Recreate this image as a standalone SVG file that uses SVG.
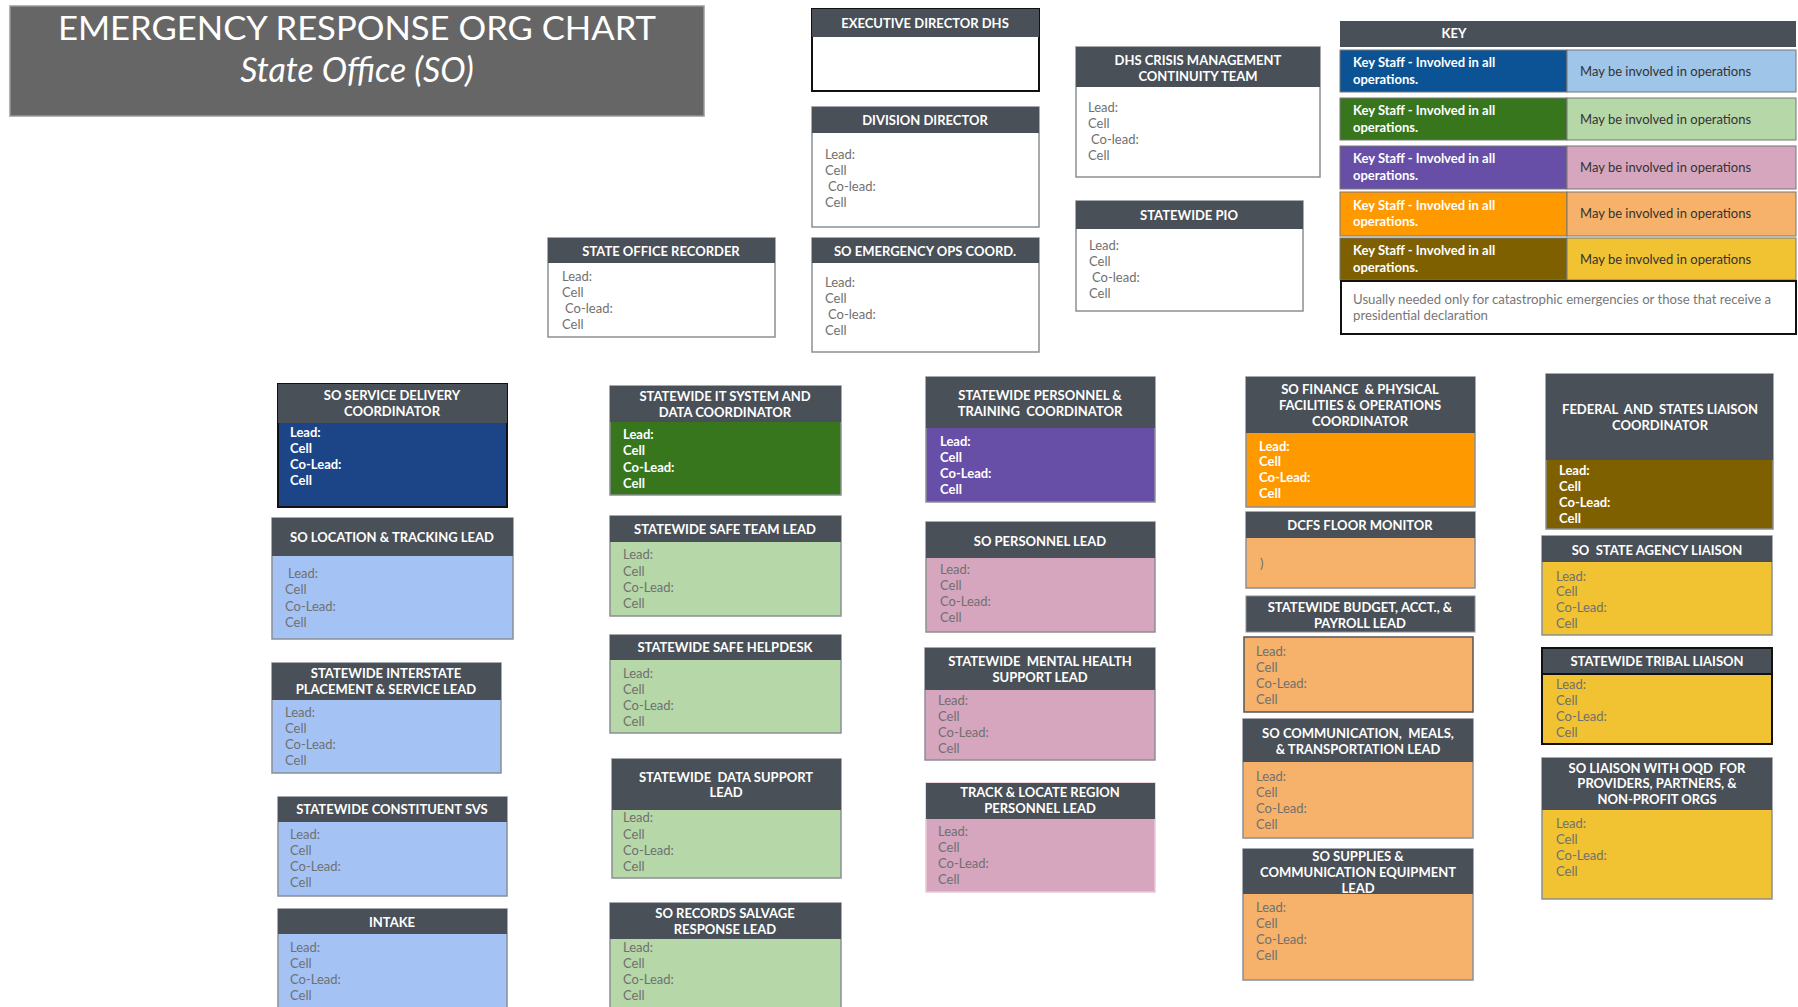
<svg xmlns="http://www.w3.org/2000/svg" width="1798" height="1007" viewBox="0 0 1798 1007" xml:space="preserve">
<style>
text{font-family:Lato,"Liberation Sans",sans-serif;white-space:pre}
.hd{fill:#495057}
.ht{font-size:13px;font-weight:bold;fill:#fff;text-anchor:middle}
.bt{font-size:13px;fill:#707070}
.bw{font-size:13px;font-weight:bold;fill:#fff}
.bx{stroke:#8a8f94;stroke-width:1.5}
.bk{stroke:#111;stroke-width:2}
.wh{fill:#fff}.lb{fill:#a4c2f4}.db{fill:#1c4587}.dg{fill:#38761d}.lg{fill:#b6d7a8}
.pu{fill:#674ea7}.pk{fill:#d5a6bd}.or{fill:#ff9900}.lo{fill:#f6b26b}.br{fill:#7f6000}.ye{fill:#f1c232}
.kl{font-size:13px;font-weight:bold;fill:#fff}
.kr{font-size:13px;fill:#333}
</style>
<rect width="1798" height="1007" fill="#fff"/>

<g id="title">
<rect x="10" y="6" width="694" height="110" fill="#666" stroke="#999" stroke-width="1.5"/>
<text x="357" y="40" text-anchor="middle" font-size="33" fill="#fff" textLength="598" lengthAdjust="spacingAndGlyphs">EMERGENCY RESPONSE ORG CHART</text>
<text x="357" y="82" text-anchor="middle" font-size="34" font-style="italic" fill="#fff">State Office (SO)</text>
</g>

<g id="connectors"></g>

<g id="exec-director">
<rect class="wh bk" x="812" y="9" width="227" height="82"/>
<rect class="hd" x="812" y="9" width="227" height="28"/>
<text class="ht" x="925" y="28">EXECUTIVE DIRECTOR DHS</text>
</g>

<g id="division-director">
<rect class="wh bx" x="812" y="107" width="227" height="120"/>
<rect class="hd" x="812" y="107" width="227" height="26"/>
<text class="ht" x="925" y="125">DIVISION DIRECTOR</text>
<text class="bt" x="825" y="159">Lead:</text><text class="bt" x="825" y="175">Cell</text><text class="bt" x="828" y="191">Co-lead:</text><text class="bt" x="825" y="207">Cell</text>
</g>

<g id="so-emergency-ops">
<rect class="wh bx" x="812" y="238" width="227" height="114"/>
<rect class="hd" x="812" y="238" width="227" height="25"/>
<text class="ht" x="925" y="256">SO EMERGENCY OPS COORD.</text>
<text class="bt" x="825" y="287">Lead:</text><text class="bt" x="825" y="303">Cell</text><text class="bt" x="828" y="319">Co-lead:</text><text class="bt" x="825" y="335">Cell</text>
</g>

<g id="dhs-crisis">
<rect class="wh bx" x="1076" y="47" width="244" height="130"/>
<rect class="hd" x="1076" y="47" width="244" height="40"/>
<text class="ht" x="1198" y="65">DHS CRISIS MANAGEMENT</text>
<text class="ht" x="1198" y="81">CONTINUITY TEAM</text>
<text class="bt" x="1088" y="112">Lead:</text><text class="bt" x="1088" y="128">Cell</text><text class="bt" x="1091" y="144">Co-lead:</text><text class="bt" x="1088" y="160">Cell</text>
</g>

<g id="statewide-pio">
<rect class="wh bx" x="1076" y="201" width="227" height="110"/>
<rect class="hd" x="1076" y="201" width="227" height="28"/>
<text class="ht" x="1189" y="220">STATEWIDE PIO</text>
<text class="bt" x="1089" y="250">Lead:</text><text class="bt" x="1089" y="266">Cell</text><text class="bt" x="1092" y="282">Co-lead:</text><text class="bt" x="1089" y="298">Cell</text>
</g>

<g id="state-office-recorder">
<rect class="wh bx" x="548" y="238" width="227" height="99"/>
<rect class="hd" x="548" y="238" width="227" height="25"/>
<text class="ht" x="661" y="256">STATE OFFICE RECORDER</text>
<text class="bt" x="562" y="281">Lead:</text><text class="bt" x="562" y="297">Cell</text><text class="bt" x="565" y="313">Co-lead:</text><text class="bt" x="562" y="329">Cell</text>
</g>

<g id="key">
<rect class="hd" x="1340" y="21" width="456" height="26"/>
<text class="ht" x="1454" y="38">KEY</text>
<rect fill="#0b5394" stroke="#777" x="1340" y="50" width="227" height="42"/><rect fill="#9fc5e8" stroke="#777" x="1567" y="50" width="229" height="42"/>
<text class="kl" x="1353" y="67">Key Staff - Involved in all</text><text class="kl" x="1353" y="84">operations.</text><text class="kr" x="1580" y="76">May be involved in operations</text>
<rect fill="#38761d" stroke="#777" x="1340" y="98" width="227" height="42"/><rect fill="#b6d7a8" stroke="#777" x="1567" y="98" width="229" height="42"/>
<text class="kl" x="1353" y="115">Key Staff - Involved in all</text><text class="kl" x="1353" y="132">operations.</text><text class="kr" x="1580" y="124">May be involved in operations</text>
<rect fill="#674ea7" stroke="#777" x="1340" y="146" width="227" height="43"/><rect fill="#d5a6bd" stroke="#777" x="1567" y="146" width="229" height="43"/>
<text class="kl" x="1353" y="163">Key Staff - Involved in all</text><text class="kl" x="1353" y="180">operations.</text><text class="kr" x="1580" y="172">May be involved in operations</text>
<rect fill="#ff9900" stroke="#777" x="1340" y="192" width="227" height="44"/><rect fill="#f6b26b" stroke="#777" x="1567" y="192" width="229" height="44"/>
<text class="kl" x="1353" y="210">Key Staff - Involved in all</text><text class="kl" x="1353" y="226">operations.</text><text class="kr" x="1580" y="218">May be involved in operations</text>
<rect fill="#7f6000" stroke="#777" x="1340" y="238" width="227" height="42"/><rect fill="#f1c232" stroke="#777" x="1567" y="238" width="229" height="42"/>
<text class="kl" x="1353" y="255">Key Staff - Involved in all</text><text class="kl" x="1353" y="272">operations.</text><text class="kr" x="1580" y="264">May be involved in operations</text>
<rect class="wh bk" x="1341" y="281" width="455" height="53"/>
<text x="1353" y="304" font-size="13.2" fill="#777">Usually needed only for catastrophic emergencies or those that receive a</text>
<text x="1353" y="320" font-size="13.2" fill="#777">presidential declaration</text>
</g>

<g id="so-service-delivery">
<rect class="db bk" x="278" y="384" width="229" height="123"/>
<rect class="hd" x="278" y="384" width="229" height="39"/>
<text class="ht" x="392" y="400">SO SERVICE DELIVERY</text><text class="ht" x="392" y="416">COORDINATOR</text>
<text class="bw" x="290" y="437">Lead:</text><text class="bw" x="290" y="453">Cell</text><text class="bw" x="290" y="469">Co-Lead:</text><text class="bw" x="290" y="485">Cell</text>
</g>

<g id="so-location-tracking">
<rect class="lb bx" x="272" y="518" width="241" height="121"/>
<rect class="hd" x="272" y="518" width="241" height="38"/>
<text class="ht" x="392" y="542">SO LOCATION &amp; TRACKING LEAD</text>
<text class="bt" x="288" y="578">Lead:</text><text class="bt" x="285" y="594">Cell</text><text class="bt" x="285" y="611">Co-Lead:</text><text class="bt" x="285" y="627">Cell</text>
</g>

<g id="statewide-interstate">
<rect class="lb bx" x="272" y="663" width="229" height="110"/>
<rect class="hd" x="272" y="663" width="229" height="37"/>
<text class="ht" x="386" y="678">STATEWIDE INTERSTATE</text><text class="ht" x="386" y="694">PLACEMENT &amp; SERVICE LEAD</text>
<text class="bt" x="285" y="717">Lead:</text><text class="bt" x="285" y="733">Cell</text><text class="bt" x="285" y="749">Co-Lead:</text><text class="bt" x="285" y="765">Cell</text>
</g>

<g id="statewide-constituent">
<rect class="lb bx" x="278" y="797" width="229" height="99"/>
<rect class="hd" x="278" y="797" width="229" height="25"/>
<text class="ht" x="392" y="814">STATEWIDE CONSTITUENT SVS</text>
<text class="bt" x="290" y="839">Lead:</text><text class="bt" x="290" y="855">Cell</text><text class="bt" x="290" y="871">Co-Lead:</text><text class="bt" x="290" y="887">Cell</text>
</g>

<g id="intake">
<rect class="lb bx" x="278" y="909" width="229" height="104"/>
<rect class="hd" x="278" y="909" width="229" height="25"/>
<text class="ht" x="392" y="927">INTAKE</text>
<text class="bt" x="290" y="952">Lead:</text><text class="bt" x="290" y="968">Cell</text><text class="bt" x="290" y="984">Co-Lead:</text><text class="bt" x="290" y="1000">Cell</text>
</g>

<g id="statewide-it-system">
<rect class="dg bx" x="610" y="386" width="231" height="109"/>
<rect class="hd" x="610" y="386" width="231" height="36"/>
<text class="ht" x="725" y="401">STATEWIDE IT SYSTEM AND</text><text class="ht" x="725" y="417">DATA COORDINATOR</text>
<text class="bw" x="623" y="439">Lead:</text><text class="bw" x="623" y="455">Cell</text><text class="bw" x="623" y="472">Co-Lead:</text><text class="bw" x="623" y="488">Cell</text>
</g>

<g id="statewide-safe-team">
<rect class="lg bx" x="610" y="516" width="231" height="100"/>
<rect class="hd" x="610" y="516" width="231" height="26"/>
<text class="ht" x="725" y="534">STATEWIDE SAFE TEAM LEAD</text>
<text class="bt" x="623" y="559">Lead:</text><text class="bt" x="623" y="576">Cell</text><text class="bt" x="623" y="592">Co-Lead:</text><text class="bt" x="623" y="608">Cell</text>
</g>

<g id="statewide-safe-helpdesk">
<rect class="lg bx" x="610" y="635" width="231" height="98"/>
<rect class="hd" x="610" y="635" width="231" height="25"/>
<text class="ht" x="725" y="652">STATEWIDE SAFE HELPDESK</text>
<text class="bt" x="623" y="678">Lead:</text><text class="bt" x="623" y="694">Cell</text><text class="bt" x="623" y="710">Co-Lead:</text><text class="bt" x="623" y="726">Cell</text>
</g>

<g id="statewide-data-support">
<rect class="lg bx" x="612" y="759" width="229" height="119"/>
<rect class="hd" x="612" y="759" width="229" height="51"/>
<text class="ht" x="726" y="782">STATEWIDE  DATA SUPPORT</text><text class="ht" x="726" y="797">LEAD</text>
<text class="bt" x="623" y="822">Lead:</text><text class="bt" x="623" y="839">Cell</text><text class="bt" x="623" y="855">Co-Lead:</text><text class="bt" x="623" y="871">Cell</text>
</g>

<g id="so-records-salvage">
<rect class="lg bx" x="610" y="903" width="231" height="110"/>
<rect class="hd" x="610" y="903" width="231" height="36"/>
<text class="ht" x="725" y="918">SO RECORDS SALVAGE</text><text class="ht" x="725" y="934">RESPONSE LEAD</text>
<text class="bt" x="623" y="952">Lead:</text><text class="bt" x="623" y="968">Cell</text><text class="bt" x="623" y="984">Co-Lead:</text><text class="bt" x="623" y="1000">Cell</text>
</g>

<g id="statewide-personnel-training">
<rect class="pu bx" x="926" y="377" width="229" height="125"/>
<rect class="hd" x="926" y="377" width="229" height="51"/>
<text class="ht" x="1040" y="400">STATEWIDE PERSONNEL &amp;</text><text class="ht" x="1040" y="416">TRAINING  COORDINATOR</text>
<text class="bw" x="940" y="446">Lead:</text><text class="bw" x="940" y="462">Cell</text><text class="bw" x="940" y="478">Co-Lead:</text><text class="bw" x="940" y="494">Cell</text>
</g>

<g id="so-personnel-lead">
<rect class="pk bx" x="926" y="522" width="229" height="110"/>
<rect class="hd" x="926" y="522" width="229" height="36"/>
<text class="ht" x="1040" y="546">SO PERSONNEL LEAD</text>
<text class="bt" x="940" y="574">Lead:</text><text class="bt" x="940" y="590">Cell</text><text class="bt" x="940" y="606">Co-Lead:</text><text class="bt" x="940" y="622">Cell</text>
</g>

<g id="statewide-mental-health">
<rect class="pk bx" x="925" y="648" width="230" height="112"/>
<rect class="hd" x="925" y="648" width="230" height="42"/>
<text class="ht" x="1040" y="666">STATEWIDE  MENTAL HEALTH</text><text class="ht" x="1040" y="682">SUPPORT LEAD</text>
<text class="bt" x="938" y="705">Lead:</text><text class="bt" x="938" y="721">Cell</text><text class="bt" x="938" y="737">Co-Lead:</text><text class="bt" x="938" y="753">Cell</text>
</g>

<g id="track-locate">
<rect class="pk" stroke="#e8c8d8" stroke-width="1.5" x="926" y="783" width="229" height="109"/>
<rect class="hd" x="926" y="783" width="229" height="36"/>
<text class="ht" x="1040" y="797">TRACK &amp; LOCATE REGION</text><text class="ht" x="1040" y="813">PERSONNEL LEAD</text>
<text class="bt" x="938" y="836">Lead:</text><text class="bt" x="938" y="852">Cell</text><text class="bt" x="938" y="868">Co-Lead:</text><text class="bt" x="938" y="884">Cell</text>
</g>

<g id="so-finance">
<rect class="or bx" x="1246" y="377" width="229" height="130"/>
<rect class="hd" x="1246" y="377" width="229" height="56"/>
<text class="ht" x="1360" y="394">SO FINANCE  &amp; PHYSICAL</text><text class="ht" x="1360" y="410">FACILITIES &amp; OPERATIONS</text><text class="ht" x="1360" y="426">COORDINATOR</text>
<text class="bw" x="1259" y="451">Lead:</text><text class="bw" x="1259" y="466">Cell</text><text class="bw" x="1259" y="482">Co-Lead:</text><text class="bw" x="1259" y="498">Cell</text>
</g>

<g id="dcfs-floor-monitor">
<rect class="lo bx" x="1246" y="512" width="229" height="76"/>
<rect class="hd" x="1246" y="512" width="229" height="26"/>
<text class="ht" x="1360" y="530">DCFS FLOOR MONITOR</text>
<text class="bt" x="1260" y="568">)</text>
</g>

<g id="statewide-budget">
<rect class="hd" stroke="#8a8f94" stroke-width="1" x="1246" y="596" width="229" height="36"/>
<text class="ht" x="1360" y="612">STATEWIDE BUDGET, ACCT., &amp;</text><text class="ht" x="1360" y="628">PAYROLL LEAD</text>
<rect class="lo" stroke="#555" stroke-width="1.5" x="1244" y="637" width="229" height="75"/>
<text class="bt" x="1256" y="656">Lead:</text><text class="bt" x="1256" y="672">Cell</text><text class="bt" x="1256" y="688">Co-Lead:</text><text class="bt" x="1256" y="704">Cell</text>
</g>

<g id="so-communication">
<rect class="lo bx" x="1243" y="719" width="230" height="119"/>
<rect class="hd" x="1243" y="719" width="230" height="43"/>
<text class="ht" x="1358" y="738">SO COMMUNICATION,  MEALS,</text><text class="ht" x="1358" y="754">&amp; TRANSPORTATION LEAD</text>
<text class="bt" x="1256" y="781">Lead:</text><text class="bt" x="1256" y="797">Cell</text><text class="bt" x="1256" y="813">Co-Lead:</text><text class="bt" x="1256" y="829">Cell</text>
</g>

<g id="so-supplies">
<rect class="lo bx" x="1243" y="849" width="230" height="131"/>
<rect class="hd" x="1243" y="849" width="230" height="45"/>
<text class="ht" x="1358" y="861">SO SUPPLIES &amp;</text><text class="ht" x="1358" y="877">COMMUNICATION EQUIPMENT</text><text class="ht" x="1358" y="893">LEAD</text>
<text class="bt" x="1256" y="912">Lead:</text><text class="bt" x="1256" y="928">Cell</text><text class="bt" x="1256" y="944">Co-Lead:</text><text class="bt" x="1256" y="960">Cell</text>
</g>

<g id="federal-states-liaison">
<rect class="br bx" x="1546" y="374" width="227" height="155"/>
<rect class="hd" x="1546" y="374" width="227" height="86"/>
<text class="ht" x="1660" y="414">FEDERAL  AND  STATES LIAISON</text><text class="ht" x="1660" y="430">COORDINATOR</text>
<text class="bw" x="1559" y="475">Lead:</text><text class="bw" x="1559" y="491">Cell</text><text class="bw" x="1559" y="507">Co-Lead:</text><text class="bw" x="1559" y="523">Cell</text>
</g>

<g id="so-state-agency-liaison">
<rect class="ye bx" x="1542" y="536" width="230" height="99"/>
<rect class="hd" x="1542" y="536" width="230" height="26"/>
<text class="ht" x="1657" y="555">SO  STATE AGENCY LIAISON</text>
<text class="bt" x="1556" y="581">Lead:</text><text class="bt" x="1556" y="596">Cell</text><text class="bt" x="1556" y="612">Co-Lead:</text><text class="bt" x="1556" y="628">Cell</text>
</g>

<g id="statewide-tribal-liaison">
<rect class="ye bk" x="1542" y="648" width="230" height="96"/>
<rect class="hd" stroke="#111" stroke-width="2" x="1542" y="648" width="230" height="26"/>
<text class="ht" x="1657" y="666">STATEWIDE TRIBAL LIAISON</text>
<text class="bt" x="1556" y="689">Lead:</text><text class="bt" x="1556" y="705">Cell</text><text class="bt" x="1556" y="721">Co-Lead:</text><text class="bt" x="1556" y="737">Cell</text>
</g>

<g id="so-liaison-oqd">
<rect class="ye bx" x="1542" y="758" width="230" height="141"/>
<rect class="hd" x="1542" y="758" width="230" height="52"/>
<text class="ht" x="1657" y="773">SO LIAISON WITH OQD  FOR</text><text class="ht" x="1657" y="788">PROVIDERS, PARTNERS, &amp;</text><text class="ht" x="1657" y="804">NON-PROFIT ORGS</text>
<text class="bt" x="1556" y="828">Lead:</text><text class="bt" x="1556" y="844">Cell</text><text class="bt" x="1556" y="860">Co-Lead:</text><text class="bt" x="1556" y="876">Cell</text>
</g>
</svg>
